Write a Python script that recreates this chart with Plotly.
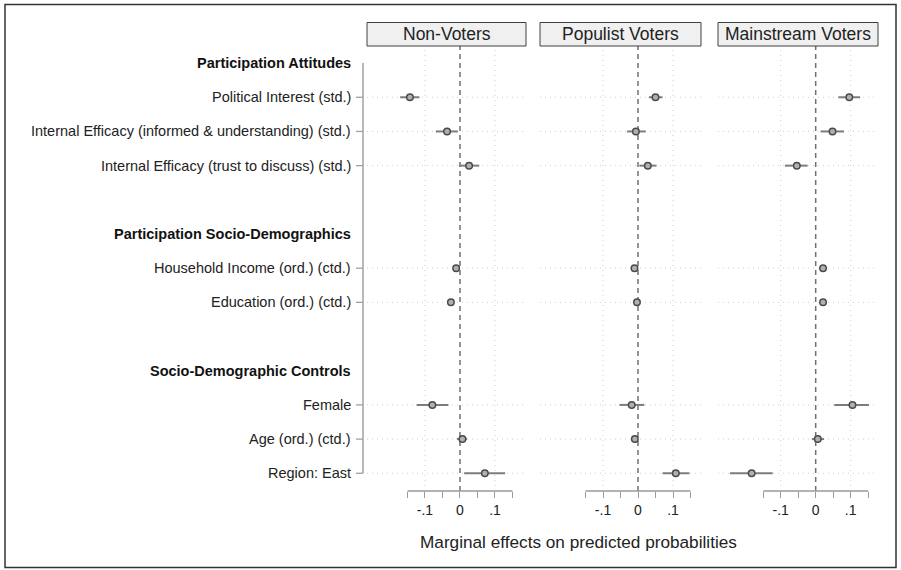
import plotly.graph_objects as go

# ---------------- data ----------------
panel_names = ["Non-Voters", "Populist Voters", "Mainstream Voters"]
sections = ["Participation Attitudes", "Participation Socio-Demographics", "Socio-Demographic Controls"]
variables = [
    "Political Interest (std.)",
    "Internal Efficacy (informed & understanding) (std.)",
    "Internal Efficacy (trust to discuss) (std.)",
    "Household Income (ord.) (ctd.)",
    "Education (ord.) (ctd.)",
    "Female",
    "Age (ord.) (ctd.)",
    "Region: East",
]
var_section = [0, 0, 0, 1, 1, 2, 2, 2]

nonvoters_est = [-0.143, -0.037, 0.026, -0.011, -0.026, -0.079, 0.007, 0.071]
nonvoters_lo = [-0.171, -0.069, -0.002, -0.017, -0.031, -0.124, -0.009, 0.012]
nonvoters_hi = [-0.116, -0.006, 0.055, -0.005, -0.021, -0.033, 0.020, 0.129]

populist_est = [0.050, -0.006, 0.028, -0.010, -0.003, -0.018, -0.009, 0.108]
populist_lo = [0.031, -0.031, 0.004, -0.014, -0.007, -0.053, -0.014, 0.070]
populist_hi = [0.070, 0.022, 0.053, -0.006, 0.001, 0.018, -0.004, 0.147]

mainstream_est = [0.096, 0.048, -0.054, 0.021, 0.021, 0.105, 0.006, -0.183]
mainstream_lo = [0.065, 0.014, -0.088, 0.016, 0.016, 0.053, -0.011, -0.245]
mainstream_hi = [0.127, 0.081, -0.023, 0.026, 0.026, 0.152, 0.024, -0.123]

tick_vals = [-0.1, 0, 0.1]
tick_text = ["-.1", "0", ".1"]
minor_ticks = [-0.15, -0.05, 0.05, 0.15]
axis_span = [-0.15, 0.15]
x_title = "Marginal effects on predicted probabilities"

# ---------------- layout helpers ----------------
W, H = 901, 570
def px(x):
    return x / W
def py(y):
    return 1 - y / H

panel_px = [(367, 526), (540, 701), (718, 878)]
x_ranges = [[-0.2657, 0.1886], [-0.28, 0.18], [-0.2791, 0.178]]
y_dom = [py(491), py(46)]
y_range = [12.519, -0.5]

# row positions: section header, its variables, blank row
header_rows = []
var_rows = [None] * len(variables)
r = 0
for s in range(len(sections)):
    header_rows.append(r)
    r += 1
    for i, vs in enumerate(var_section):
        if vs == s:
            var_rows[i] = r
            r += 1
    r += 1

series = [
    (nonvoters_est, nonvoters_lo, nonvoters_hi),
    (populist_est, populist_lo, populist_hi),
    (mainstream_est, mainstream_lo, mainstream_hi),
]

FONT = "Liberation Sans, Arial, sans-serif"
GRID = dict(color="#cfcfcf", width=1, dash="1px,4px")
fig = go.Figure()
shapes = []
annotations = []
layout = {}

for k, (est, lo, hi) in enumerate(series):
    sfx = "" if k == 0 else str(k + 1)
    xa, ya = "x" + sfx, "y" + sfx
    fig.add_trace(go.Scatter(
        x=est, y=var_rows, mode="markers", xaxis=xa, yaxis=ya, showlegend=False,
        error_x=dict(type="data", symmetric=False,
                     array=[h - e for h, e in zip(hi, est)],
                     arrayminus=[e - l for e, l in zip(est, lo)],
                     width=0, thickness=2, color="#7c7c7c"),
        marker=dict(size=6.5, color="#b0b0b0", line=dict(color="#4a4a4a", width=1.5)),
        hoverinfo="skip",
    ))
    layout["xaxis" + sfx] = dict(
        domain=[px(panel_px[k][0]), px(panel_px[k][1])], range=x_ranges[k],
        anchor=ya, tickmode="array", tickvals=tick_vals, ticktext=tick_text,
        ticks="outside", ticklen=6, tickcolor="#9a9a9a", tickwidth=1.3,
        minor=dict(tickmode="array", tickvals=minor_ticks, ticks="outside",
                   ticklen=6, tickcolor="#9a9a9a", tickwidth=1.3, showgrid=False),
        showgrid=False, zeroline=False, showline=False,
        tickfont=dict(size=14, color="#222", family=FONT),
    )
    layout["yaxis" + sfx] = dict(
        domain=y_dom, range=y_range, anchor=xa, showticklabels=False,
        showgrid=False, zeroline=False, showline=False, ticks="",
    )
    xd = xa + " domain"
    yd = ya + " domain"
    # horizontal dotted grid at variable rows
    for row in var_rows:
        shapes.append(dict(type="line", xref=xd, x0=0, x1=1, yref=ya, y0=row, y1=row,
                           line=GRID, layer="below"))
    # vertical dotted grid
    for v in [tick_vals[0], tick_vals[-1]]:
        shapes.append(dict(type="line", xref=xa, x0=v, x1=v, yref=yd, y0=0, y1=1,
                           line=GRID, layer="below"))
    # zero dashed line
    shapes.append(dict(type="line", xref=xa, x0=0, x1=0, yref=yd, y0=0, y1=1,
                       line=dict(color="#707070", width=1.5, dash="5px,4px"), layer="below"))
    # x axis line
    shapes.append(dict(type="line", xref=xa, x0=axis_span[0], x1=axis_span[1], yref=yd, y0=0, y1=0,
                       line=dict(color="#9a9a9a", width=1.5)))
    # header box
    shapes.append(dict(type="rect", xref=xd, x0=0, x1=1, yref="paper", y0=py(46), y1=py(22.5),
                       fillcolor="#f0f0f0", line=dict(color="#404040", width=1)))
    annotations.append(dict(xref=xd, x=0.5, yref="paper", y=py(34.2), text=panel_names[k],
                            showarrow=False, xanchor="center", yanchor="middle",
                            font=dict(size=17.5, color="#222", family=FONT)))

# y axis line and ticks (left of first panel)
shapes.append(dict(type="line", xref="paper", x0=px(363), x1=px(363), yref="y",
                   y0=header_rows[0], y1=var_rows[-1], line=dict(color="#a0a0a0", width=1.5)))
for row in var_rows:
    shapes.append(dict(type="line", xref="paper", x0=px(356), x1=px(363), yref="y",
                       y0=row, y1=row, line=dict(color="#a0a0a0", width=1.3)))

# row labels
for s, row in zip(sections, header_rows):
    annotations.append(dict(xref="paper", x=px(353), yref="y", y=row, text="<b>" + s + "</b>",
                            showarrow=False, xanchor="right", yanchor="middle",
                            font=dict(size=14.5, color="#111", family=FONT)))
for v, row in zip(variables, var_rows):
    annotations.append(dict(xref="paper", x=px(353), yref="y", y=row, text=v,
                            showarrow=False, xanchor="right", yanchor="middle",
                            font=dict(size=14.5, color="#222", family=FONT)))

# x title
annotations.append(dict(xref="paper", x=px(578.5), yref="paper", y=py(541.7), text=x_title,
                        showarrow=False, xanchor="center", yanchor="middle",
                        font=dict(size=17.2, color="#222", family=FONT)))

# outer border
shapes.append(dict(type="rect", xref="paper", yref="paper", x0=px(5), x1=px(896),
                   y0=py(567.5), y1=py(4.5), line=dict(color="#333", width=1.5)))

fig.update_layout(
    width=W, height=H, margin=dict(l=0, r=0, t=0, b=0),
    paper_bgcolor="white", plot_bgcolor="white",
    shapes=shapes, annotations=annotations, font=dict(family=FONT),
    **layout,
)

# remove the browser's default 8px page margin so the figure fills the window
fig.write_html("out.html", config={"displayModeBar": False},
               post_script="document.body.style.margin='0';")
